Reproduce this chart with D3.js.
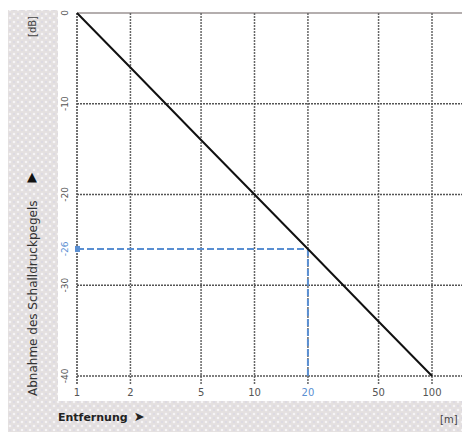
<!DOCTYPE html>
<html><head><meta charset="utf-8">
<script src="https://cdn.jsdelivr.net/npm/d3@7"></script>
<style>html,body{margin:0;padding:0;background:#fff;}svg{display:block;}</style>
</head><body>
<svg id="c" width="462" height="432"></svg>
<script>
const xTicks = [1, 2, 5, 10, 20, 50, 100];
const xTickLabels = ["1", "2", "5", "10", "20", "50", "100"];
const yTicks = [0, -10, -20, -30, -40];
const yTickLabels = ["0", "-10", "-20", "-30", "-40"];
const lineDist = [1, 2, 5, 10, 20, 50, 100];
const lineLevel = [0, -6, -14, -20, -26, -34, -40];
const markDist = [20];
const markLevel = [-26];
const yTitle = "Abnahme des Schalldruckpegels";
const yUnit = "[dB]";
const xTitle = "Entfernung";
const xUnit = "[m]";

const svg = d3.select("#c");
const x = d3.scaleLog().domain([1, 100]).range([77, 432]);
const y = d3.scaleLinear().domain([0, -40]).range([13, 376]);

// patterned background bands
const defs = svg.append("defs");
const pat = defs.append("pattern").attr("id", "pt").attr("patternUnits", "userSpaceOnUse")
  .attr("width", 8).attr("height", 8);
pat.append("rect").attr("width", 8).attr("height", 8).attr("fill", "#e4e0e0");
pat.append("circle").attr("cx", 2).attr("cy", 2).attr("r", 1.3).attr("fill", "#f6f4f6");
pat.append("circle").attr("cx", 6).attr("cy", 6).attr("r", 1.3).attr("fill", "#f6f4f6");
pat.append("rect").attr("x", 5.5).attr("y", 1.5).attr("width", 1).attr("height", 1).attr("fill", "#c8c8e8");
pat.append("rect").attr("x", 1.5).attr("y", 5.5).attr("width", 1).attr("height", 1).attr("fill", "#c8c8e8");

svg.append("rect").attr("x", 8).attr("y", 10).attr("width", 50).attr("height", 392).attr("fill", "url(#pt)");
svg.append("rect").attr("x", 8).attr("y", 401).attr("width", 454).attr("height", 31).attr("fill", "url(#pt)");

// top border
svg.append("line").attr("x1", x(1)).attr("x2", 462).attr("y1", y(0)).attr("y2", y(0))
  .attr("stroke", "#b4aeae").attr("stroke-width", 2);

// vertical grid
svg.append("g").selectAll("line").data(xTicks).join("line")
  .attr("x1", d => x(d)).attr("x2", d => x(d))
  .attr("y1", y(0)).attr("y2", y(-40) + 9)
  .attr("stroke", (d, i) => i === 0 ? "#444" : "#666").attr("stroke-width", 1.5)
  .attr("stroke-dasharray", "2,1");

// horizontal grid
svg.append("g").selectAll("line").data(yTicks.slice(1)).join("line")
  .attr("x1", x(1)).attr("x2", 462)
  .attr("y1", d => y(d)).attr("y2", d => y(d))
  .attr("stroke", "#555").attr("stroke-width", 1.5)
  .attr("stroke-dasharray", "2,1");

// blue marker lines
const blue = "#5a8fd2";
markDist.forEach((m, i) => {
  svg.append("line").attr("x1", x(1)).attr("x2", x(m))
    .attr("y1", y(markLevel[i])).attr("y2", y(markLevel[i]))
    .attr("stroke", blue).attr("stroke-width", 2).attr("stroke-dasharray", "7,3");
  svg.append("line").attr("x1", x(m)).attr("x2", x(m))
    .attr("y1", y(markLevel[i])).attr("y2", y(-40))
    .attr("stroke", blue).attr("stroke-width", 2).attr("stroke-dasharray", "7,3");
  svg.append("rect").attr("x", x(1) - 2).attr("y", y(markLevel[i]) - 3)
    .attr("width", 5).attr("height", 6).attr("fill", blue);
});

// main line
const pts = lineDist.map((d, i) => [d, lineLevel[i]]);
svg.append("path").datum(pts)
  .attr("d", d3.line().x(d => x(d[0])).y(d => y(d[1])))
  .attr("fill", "none").attr("stroke", "#111").attr("stroke-width", 2);

// x tick labels
svg.append("g").selectAll("text").data(xTicks).join("text")
  .attr("x", d => x(d)).attr("y", 396)
  .attr("text-anchor", "middle")
  .attr("font-family", "DejaVu Sans, sans-serif").attr("font-size", 10)
  .attr("fill", d => markDist.includes(d) ? blue : "#555")
  .text((d, i) => xTickLabels[i]);

// y tick labels (rotated)
const yl = yTicks.map((d, i) => ({v: d, t: yTickLabels[i], c: "#555"}))
  .concat(markLevel.map(v => ({v: v, t: String(v), c: blue})));
svg.append("g").selectAll("text").data(yl).join("text")
  .attr("transform", d => `translate(68,${y(d.v)}) rotate(-90)`)
  .attr("text-anchor", "middle")
  .attr("font-family", "DejaVu Sans, sans-serif").attr("font-size", 9)
  .attr("fill", d => d.c)
  .text(d => d.t);

// y title
svg.append("text").attr("transform", "translate(37,396) rotate(-90)")
  .attr("text-anchor", "start")
  .attr("font-family", "DejaVu Sans, sans-serif").attr("font-size", 12)
  .attr("fill", "#333").text(yTitle);
svg.append("text").attr("x", 32).attr("y", 181).attr("text-anchor", "middle")
  .attr("font-family", "DejaVu Sans, sans-serif").attr("font-size", 13).attr("font-weight", "bold")
  .attr("fill", "#111").text("▲");
svg.append("text").attr("transform", "translate(36,16) rotate(-90)")
  .attr("text-anchor", "end")
  .attr("font-family", "DejaVu Sans, sans-serif").attr("font-size", 10)
  .attr("fill", "#444").text(yUnit);

// x title
svg.append("text").attr("x", 58).attr("y", 421)
  .attr("font-family", "DejaVu Sans, sans-serif").attr("font-size", 11).attr("font-weight", "bold")
  .attr("fill", "#222").text(xTitle)
  .append("tspan").attr("dx", 6).attr("font-size", 13).text("➤");
svg.append("text").attr("x", 440).attr("y", 423)
  .attr("font-family", "DejaVu Sans, sans-serif").attr("font-size", 10)
  .attr("fill", "#444").text(xUnit);
</script>
</body></html>
